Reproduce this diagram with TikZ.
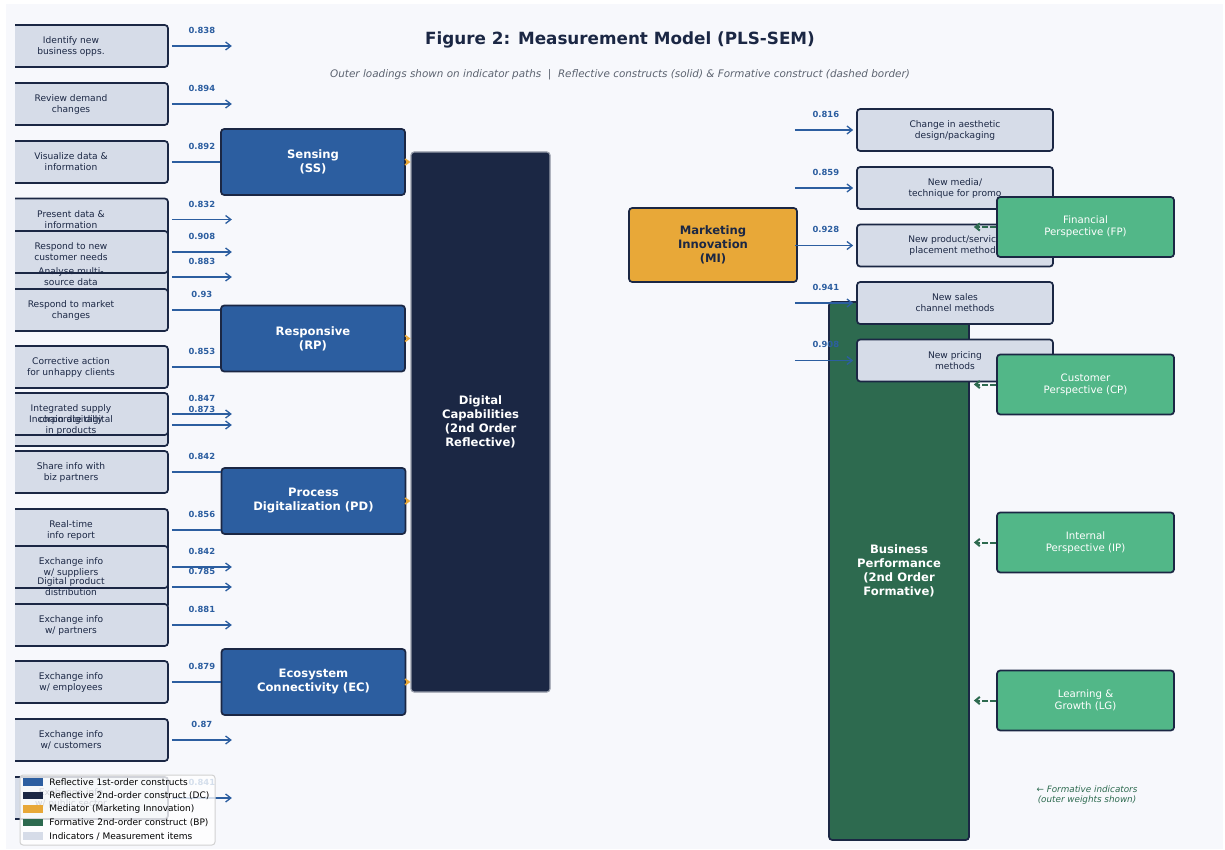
\documentclass[tikz,border=0pt]{standalone}
\usepackage{fontspec}
\setmainfont{DejaVu Sans}[ItalicFont={DejaVu Sans Oblique},BoldFont={DejaVu Sans Bold}]
\usetikzlibrary{arrows.meta,calc}
\definecolor{cnavy}{HTML}{1B2744}
\definecolor{cblue}{HTML}{2C5EA0}
\definecolor{cgold}{HTML}{E8A838}
\definecolor{cgreen}{HTML}{2D6A4F}
\definecolor{cmint}{HTML}{52B788}
\definecolor{citem}{HTML}{D6DCE8}
\definecolor{cpaper}{HTML}{F7F8FC}
\definecolor{cgrey}{HTML}{5C6370}

\begin{document}
\begin{tikzpicture}[x=0.5pt, y=-0.5pt,
    item/.style={draw=cnavy, fill=citem, line width=0.85pt, rounded corners=1.6pt,
      minimum width=97pt, minimum height=21pt, inner sep=0pt},
    itemtext/.style={text=cnavy, align=center, font=\fontsize{4.55}{5.5}\selectfont},
    construct/.style={draw=cnavy, fill=cblue, line width=0.85pt, rounded corners=1.6pt,
      minimum width=92pt, minimum height=33pt, inner sep=0pt, text=white, align=center,
      font=\bfseries\fontsize{5.8}{7}\selectfont},
    perspective/.style={draw=cnavy, fill=cmint, line width=0.85pt, rounded corners=1.6pt,
      minimum width=88.5pt, minimum height=30pt, inner sep=0pt, text=white, align=center,
      font=\fontsize{5.1}{6.1}\selectfont},
    loading/.style={cblue, line width=0.65pt},
    loadtip/.style={loading, -{Straight Barb[length=2.6pt,width=4pt]}},
    loadlabel/.style={text=cblue, font=\bfseries\fontsize{4.2}{5}\selectfont},
    goldtip/.style={cgold, line width=0.8pt, -{Straight Barb[length=2pt,width=3pt]}},
    formarrow/.style={cgreen, line width=1pt, dash pattern=on 3pt off 1pt,
      -{Straight Barb[length=2.2pt,width=3.6pt]}},
    legtext/.style={anchor=west, inner sep=0pt, text=black, font=\fontsize{4.5}{5.4}\selectfont},
  ]
  \useasboundingbox (0,0) rectangle (1225,850);
  \fill[white] (0,0) rectangle (1225,850);
  \fill[cpaper] (6,4) rectangle (1223,849);

  \node[text=cnavy, font=\bfseries\fontsize{8.4}{10}\selectfont] (title) at (620,40)
    {Figure 2: Measurement Model (PLS-SEM)};
  \node[text=cgrey, font=\itshape\fontsize{5.2}{6.2}\selectfont] (subtitle) at (620,75)
    {Outer loadings shown on indicator paths \ | \ Reflective constructs (solid) \& Formative construct (dashed border)};

  % indicator boxes, cut at the left edge
  \begin{scope}
    \clip (15,0) rectangle (260,850);
    \foreach \n/\y in {1/46,2/104,3/162,4/219.5,6/277,5/252,7/310,8/367,10/425,9/414,
        11/472,12/530,14/587,13/567,15/625,16/682,17/740,18/798}
      \node[item] (ind\n) at (71,\y) {};
  \end{scope}
  \foreach \n/\txt in {1/{Identify new\\business opps.}, 2/{Review demand\\changes},
      3/{Visualize data \&\\information}, 4/{Present data \&\\information},
      5/{Respond to new\\customer needs}, 6/{Analyse multi-\\source data},
      7/{Respond to market\\changes}, 8/{Corrective action\\for unhappy clients},
      9/{Integrated supply\\chain digitally}, 10/{Incorporate digital\\in products},
      11/{Share info with\\biz partners}, 12/{Real-time\\info report},
      13/{Exchange info\\w/ suppliers}, 14/{Digital product\\distribution},
      15/{Exchange info\\w/ partners}, 16/{Exchange info\\w/ employees},
      17/{Exchange info\\w/ customers}, 18/{Exchange info\\w/ public sector}}
    \node[itemtext] (txt\n) at (ind\n) {\txt};

  % first-order constructs
  \node[construct] (ss) at (313,162) {Sensing\\(SS)};
  \node[construct] (rp) at (313,338.5) {Responsive\\(RP)};
  \node[construct] (pd) at (313.5,501) {Process\\Digitalization (PD)};
  \node[construct] (ec) at (313.5,682) {Ecosystem\\Connectivity (EC)};

  % outer loadings
  \foreach \n/\v in {1/0.838,2/0.894,4/0.832,5/0.908,6/0.883,9/0.847,10/0.873,
      13/0.842,14/0.785,15/0.881,17/0.87,18/0.841}{
    \coordinate (tip\n) at ([xshift=31.5pt]ind\n.east);
    \draw[loadtip] ([xshift=1.5pt]ind\n.east) -- (tip\n);
    \node[loadlabel] (w\n) at ([xshift=16.5pt,yshift=7.75pt]ind\n.east) {\v};
  }
  \foreach \n/\v/\c in {3/0.892/ss,7/0.93/rp,8/0.853/rp,11/0.842/pd,12/0.856/pd,16/0.879/ec}{
    \draw[loading] ([xshift=1.5pt]ind\n.east) -- (ind\n.east -| \c.west);
    \node[loadlabel] (w\n) at ([xshift=16.5pt,yshift=7.75pt]ind\n.east) {\v};
  }

  \node[draw=cnavy!45!white, fill=cnavy, line width=0.6pt, rounded corners=1.6pt,
    minimum width=69.5pt, minimum height=270pt, text=white, align=center,
    font=\bfseries\fontsize{5.8}{7}\selectfont] (dc) at (480.5,422)
    {Digital\\Capabilities\\(2nd Order\\Reflective)};
  \foreach \c in {ss,rp,pd,ec}
    \draw[goldtip] (\c.east) -- (\c.east -| dc.west);

  \node[draw=cnavy, fill=cgreen, line width=0.85pt, rounded corners=1.6pt,
    minimum width=70pt, minimum height=269pt, text=white, align=center,
    font=\bfseries\fontsize{5.8}{7}\selectfont] (bp) at (899,571)
    {Business\\Performance\\(2nd Order\\Formative)};

  % mediator and its items
  \node[draw=cnavy, fill=cgold, line width=0.85pt, rounded corners=1.6pt,
    minimum width=84pt, minimum height=37pt, text=cnavy, align=center,
    font=\bfseries\fontsize{5.8}{7}\selectfont] (mi) at (713,245)
    {Marketing\\Innovation\\(MI)};
  \foreach \n/\y/\txt/\v in {1/130/{Change in aesthetic\\design/packaging}/0.816,
      2/188/{New media/\\technique for promo}/0.859,
      3/245.5/{New product/service\\placement methods}/0.928,
      4/303/{New sales\\channel methods}/0.941,
      5/360.5/{New pricing\\methods}/0.908}{
    \node[item, minimum width=98pt, itemtext] (mk\n) at (955,\y) {\txt};
    \draw[loadtip] ([xshift=-1.5pt]mi.east |- mk\n.west) -- ([xshift=-1.5pt]mk\n.west);
    \node[loadlabel] (v\n) at ($(mi.east |- mk\n.west)+(28,-16)$) {\v};
  }

  % formative indicators
  \foreach \n/\y/\txt in {fp/227/{Financial\\Perspective (FP)}, cp/384.5/{Customer\\Perspective (CP)},
      ip/542.5/{Internal\\Perspective (IP)}, lg/700.5/{Learning \&\\Growth (LG)}}{
    \node[perspective] (\n) at (1085.5,\y) {\txt};
    \draw[formarrow] (\n.west) -- ($(\n.west -| bp.east)+(4,0)$);
  }
  \node[text=cgreen, align=center, font=\itshape\fontsize{4.4}{5}\selectfont] (note) at (1087,795)
    {← Formative indicators\\(outer weights shown)};

  % legend
  \node[draw=black!18, fill=white, fill opacity=0.8, rounded corners=1.5pt, line width=0.5pt,
    minimum width=97.5pt, minimum height=35pt] (legend) at (117.5,810) {};
  \foreach \c/\txt [count=\k] in {cblue/{Reflective 1st-order constructs},
      cnavy/{Reflective 2nd-order construct (DC)}, cgold/{Mediator (Marketing Innovation)},
      cgreen/{Formative 2nd-order construct (BP)}, citem/{Indicators / Measurement items}}{
    \node[fill=\c, minimum width=10pt, minimum height=3.6pt, inner sep=0pt] (lp\k) at (33,768.5+13.5*\k) {};
    \node[legtext] (lt\k) at (49,768.5+13.5*\k) {\txt};
  }
\end{tikzpicture}
\end{document}
